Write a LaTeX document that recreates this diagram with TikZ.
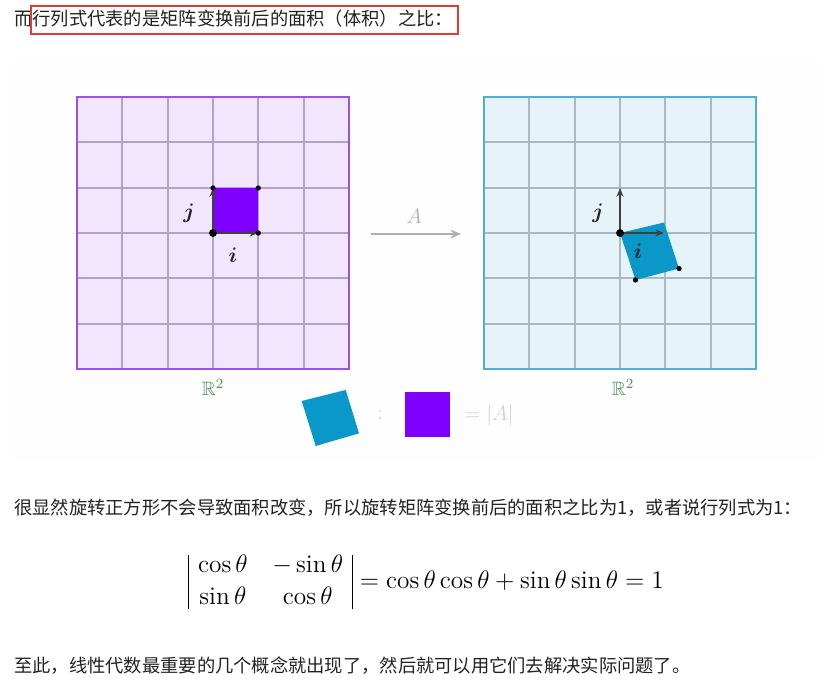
\documentclass[tikz,border=0pt]{standalone}
\usepackage{amsmath,amssymb}
\usepackage{fontspec}
\newfontfamily\cjk{Noto Sans CJK SC}
\usetikzlibrary{arrows.meta}
\definecolor{txt}{HTML}{222222}
\definecolor{redbox}{HTML}{E53935}
\definecolor{lavfill}{HTML}{F1E6FD}
\definecolor{lavborder}{HTML}{9D50F0}
\definecolor{lavgrid}{HTML}{B3A3C3}
\definecolor{purp}{HTML}{8000FF}
\definecolor{cyfill}{HTML}{E6F4F9}
\definecolor{cyborder}{HTML}{4FB0D3}
\definecolor{cygrid}{HTML}{A9BAC1}
\definecolor{cysq}{HTML}{0A98C8}
\definecolor{rgreen}{HTML}{4F8F55}
\definecolor{lgray}{HTML}{B0B0B0}
\definecolor{vlgray}{HTML}{D0D0D0}
\definecolor{vec}{HTML}{404040}
\newcommand{\detbar}{\rule[-12pt]{0.55pt}{31.2pt}}
\tikzset{
  cjktext/.style={anchor=west,inner sep=0pt,font=\cjk\fontsize{10.4pt}{12pt}\selectfont,text=txt},
  veclabel/.style={inner sep=0pt,font=\fontsize{12pt}{14pt}\selectfont,text=txt},
  vecarrow/.style={draw=vec,line width=0.8pt,-{Stealth[length=5pt,width=4pt]}},
  dotsmall/.style={circle,fill=black,inner sep=0pt,minimum size=3pt},
  dotbig/.style={circle,fill=black,inner sep=0pt,minimum size=4.5pt},
  rlabel/.style={inner sep=0pt,text=rgreen,font=\fontsize{11pt}{13pt}\selectfont},
  gridline/.style={line width=1.1pt},
}
\begin{document}
\begin{tikzpicture}[x=0.02cm,y=-0.02cm]
\useasboundingbox (0,0) rectangle (831,690);
\fill[white] (0,0) rectangle (831,690);
\fill[fill={rgb,255:red,254;green,254;blue,254}] (14,60) rectangle (818,462);

% top text with red box
\node[cjktext] (t1) at (14,19) {而行列式代表的是矩阵变换前后的面积（体积）之比：};
\draw[redbox,line width=1.1pt] (31,6) rectangle (458,34);

% left grid
\fill[lavfill] (77,97) rectangle (349,369);
\foreach \k in {1,...,5}{
  \draw[lavgrid,gridline] ({77+\k*45.333},97) -- ({77+\k*45.333},369);
  \draw[lavgrid,gridline] (77,{97+\k*45.333}) -- (349,{97+\k*45.333});
}
\draw[lavborder,line width=1.3pt] (77,97) rectangle (349,369);
\fill[purp] (213,188) rectangle (258.3,233);
\coordinate (lo) at (213,233);
\coordinate (li) at (258.3,233);
\coordinate (lj) at (213,188);
\coordinate (lij) at (258.3,188);
\draw[vecarrow] (lo) -- (li);
\draw[vecarrow] (lo) -- (lj);
\node[dotbig] at (lo) {};
\node[dotsmall] at (li) {};
\node[dotsmall] at (lj) {};
\node[dotsmall] at (lij) {};
\node[veclabel] (ljl) at (189,213) {$\boldsymbol{j}$};
\node[veclabel] (lil) at (233,255) {$\boldsymbol{i}$};
\node[rlabel] (lr) at (213,387) {$\mathbb{R}^2$};

% arrow A
\coordinate (as) at (371,234);
\coordinate (ae) at (461,234);
\draw[lgray,line width=1pt,-{Stealth[length=6pt,width=5pt]}] (as) -- (ae);
\node[inner sep=0pt,text=lgray,font=\fontsize{12pt}{14pt}\selectfont] (al) at (414,216) {$A$};

% right grid
\fill[cyfill] (484,97) rectangle (756,369);
\foreach \k in {1,...,5}{
  \draw[cygrid,gridline] ({484+\k*45.333},97) -- ({484+\k*45.333},369);
  \draw[cygrid,gridline] (484,{97+\k*45.333}) -- (756,{97+\k*45.333});
}
\draw[cyborder,line width=1.3pt] (484,97) rectangle (756,369);
\coordinate (ro) at (620,233);
\coordinate (ra) at (664,222.5);
\coordinate (rc) at (679,268.5);
\coordinate (rb) at (635.5,280);
\fill[cysq] (ro) -- (ra) -- (rc) -- (rb) -- cycle;
\coordinate (ri) at (664,233);
\coordinate (rj) at (620,188);
\draw[vecarrow] (ro) -- (ri);
\draw[vecarrow] (ro) -- (rj);
\node[dotbig] at (ro) {};
\node[dotsmall] at (rc) {};
\node[dotsmall] at (rb) {};
\node[veclabel] (rjl) at (598,213) {$\boldsymbol{j}$};
\node[veclabel] (ril) at (638,251) {$\boldsymbol{i}$};
\node[rlabel] (rr) at (623,387) {$\mathbb{R}^2$};

% ratio line
\fill[cysq] (301.7,401) -- (345.7,390) -- (359,433.3) -- (315.7,446) -- cycle;
\node[inner sep=0pt,text=vlgray,font=\fontsize{12pt}{14pt}\selectfont] (colon) at (380,415) {$:$};
\fill[purp] (404.7,392) rectangle (450,437.3);
\node[anchor=west,inner sep=0pt,text=vlgray,font=\fontsize{12pt}{14pt}\selectfont] (eqa) at (464,415) {$=|A|$};

% second text
\node[cjktext] (t2) at (14,508) {很显然旋转正方形不会导致面积改变，所以旋转矩阵变换前后的面积之比为1，或者说行列式为1：};

% equation
\node[anchor=west,inner sep=0pt,text=black,font=\fontsize{14.4pt}{17pt}\selectfont] (eq) at (188,582)
  {\renewcommand{\arraystretch}{1.08}\setlength{\arraycolsep}{7pt}%
   $\detbar\hspace{5pt}\begin{matrix}\cos\theta & -\sin\theta\\ \sin\theta & \cos\theta\end{matrix}\hspace{5pt}\detbar=\cos\theta\cos\theta+\sin\theta\sin\theta=1$};

% third text
\node[cjktext] (t3) at (14,666) {至此，线性代数最重要的几个概念就出现了，然后就可以用它们去解决实际问题了。};
\end{tikzpicture}
\end{document}
